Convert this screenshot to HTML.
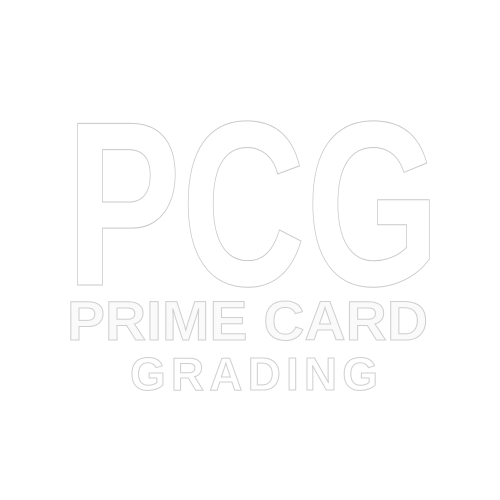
<!DOCTYPE html>
<html>
<head>
<meta charset="utf-8">
<style>
html,body{margin:0;padding:0;background:#fff;width:500px;height:500px;overflow:hidden}
svg{display:block}
text{font-family:"Liberation Sans",sans-serif;font-weight:bold}
</style>
</head>
<body>
<svg width="500" height="500" viewBox="0 0 500 500">
  <rect x="0" y="0" width="500" height="500" fill="#fff"/>
  <text x="66" y="285" font-size="235" textLength="374" lengthAdjust="spacingAndGlyphs" fill="#fff" stroke="#c8c8c8" stroke-width="1">PCG</text>
  <text x="67" y="340" font-size="56" textLength="361" lengthAdjust="spacingAndGlyphs" fill="#fafafa" stroke="#cfcfcf" stroke-width="1">PRIME CARD</text>
  <text x="130" y="390" font-size="46" textLength="248" lengthAdjust="spacing" fill="#fff" stroke="#cfcfcf" stroke-width="1">GRADING</text>
</svg>
</body>
</html>
